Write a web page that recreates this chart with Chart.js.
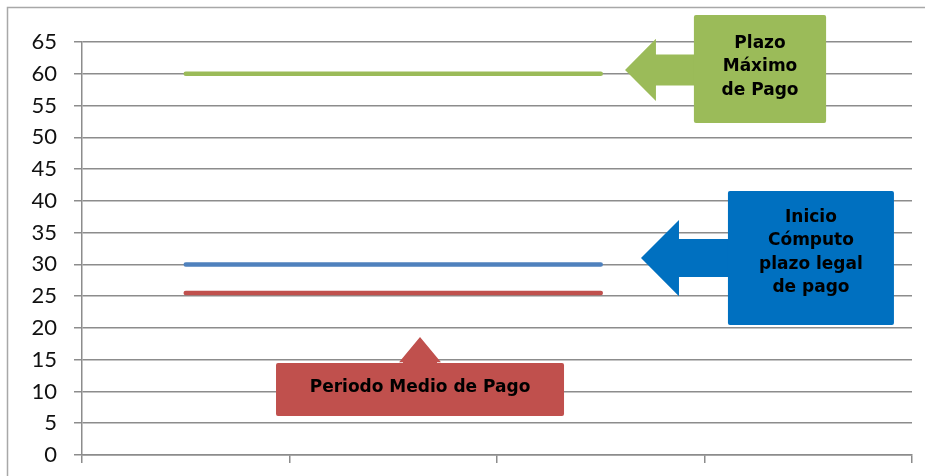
<!DOCTYPE html>
<html>
<head>
<meta charset="utf-8">
<script src="https://cdn.jsdelivr.net/npm/chart.js@4"></script>
<style>
  html, body { margin: 0; padding: 0; background: #fff; }
  #wrap { width: 925px; height: 476px; position: relative; }
</style>
</head>
<body>
<div id="wrap"><canvas id="c" width="925" height="476"></canvas></div>
<script>
// ---- data ----
const categories = ['', '', '', ''];
const plazoMaximo = [60, 60, 60, null];
const inicioComputo = [30, 30, 30, null];
const periodoMedio = [25.5, 25.5, 25.5, null];
const yMin = 0, yMax = 65, yStep = 5;

// ---- callout annotations (in axis units: x = category index, y = value) ----
const calloutGreen = {
  lines: ['Plazo', 'Máximo', 'de Pago'], color: '#9BBB59',
  box: { x0: 2.449, x1: 3.086, y0: 69.25, y1: 52.25 }, textY: 61.1,
  arrow: { dir: 'left', tipX: 2.117, tipY: 60.6, baseX: 2.266, head: 4.9, shaft: 2.44 }
};
const calloutBlue = {
  lines: ['Inicio', 'Cómputo', 'plazo legal', 'de pago'], color: '#0070C0',
  box: { x0: 2.613, x1: 3.413, y0: 41.55, y1: 20.46 }, textY: 31.87,
  arrow: { dir: 'left', tipX: 2.194, tipY: 31.0, baseX: 2.377, head: 6.0, shaft: 3.0 }
};
const calloutRed = {
  lines: ['Periodo Medio de Pago'], color: '#C0504D',
  box: { x0: 0.435, x1: 1.823, y0: 14.48, y1: 6.14 }, textY: 10.54,
  arrow: { dir: 'up', tipX: 1.129, tipY: 18.57, baseY: 14.6, head: 0.101, shaft: 0.082 }
};
const callouts = [calloutGreen, calloutBlue, calloutRed];

const frame = {
  id: 'frame',
  beforeDraw(chart) {
    const ctx = chart.ctx;
    ctx.save();
    ctx.strokeStyle = '#a8a8a8';
    ctx.lineWidth = 1.5;
    ctx.beginPath();
    ctx.moveTo(7.5, chart.height + 5);
    ctx.lineTo(7.5, 7.5);
    ctx.lineTo(chart.width + 5, 7.5);
    ctx.stroke();
    ctx.restore();
  }
};

const calloutPlugin = {
  id: 'callouts',
  afterDatasetsDraw(chart) {
    const ctx = chart.ctx;
    const xs = chart.scales.x, ys = chart.scales.y;
    const px = v => xs.getPixelForValue(v);
    const py = v => ys.getPixelForValue(v);
    ctx.save();
    callouts.forEach(c => {
      const bx0 = px(c.box.x0), bx1 = px(c.box.x1);
      const by0 = py(c.box.y0), by1 = py(c.box.y1);
      ctx.fillStyle = c.color;
      ctx.beginPath();
      const a = c.arrow;
      if (a.dir === 'left') {
        const tx = px(a.tipX), ty = py(a.tipY), bx = px(a.baseX);
        const hh = Math.abs(py(a.tipY + a.head) - ty);
        const sh = Math.abs(py(a.tipY + a.shaft) - ty);
        ctx.moveTo(tx, ty);
        ctx.lineTo(bx, ty - hh);
        ctx.lineTo(bx, ty - sh);
        ctx.lineTo(bx0 + 2, ty - sh);
        ctx.lineTo(bx0 + 2, ty + sh);
        ctx.lineTo(bx, ty + sh);
        ctx.lineTo(bx, ty + hh);
        ctx.closePath();
      } else {
        const tx = px(a.tipX), ty = py(a.tipY), by = py(a.baseY);
        const hw = Math.abs(px(a.tipX + a.head) - tx);
        const sw = Math.abs(px(a.tipX + a.shaft) - tx);
        ctx.moveTo(tx, ty);
        ctx.lineTo(tx + hw, by);
        ctx.lineTo(tx + sw, by);
        ctx.lineTo(tx + sw, by0 + 2);
        ctx.lineTo(tx - sw, by0 + 2);
        ctx.lineTo(tx - sw, by);
        ctx.lineTo(tx - hw, by);
        ctx.closePath();
      }
      ctx.fill();
      ctx.beginPath();
      if (ctx.roundRect) ctx.roundRect(bx0, by0, bx1 - bx0, by1 - by0, 2);
      else ctx.rect(bx0, by0, bx1 - bx0, by1 - by0);
      ctx.fill();
      // text
      ctx.fillStyle = '#000';
      ctx.font = 'bold 17px "DejaVu Sans"';
      ctx.textAlign = 'center';
      ctx.textBaseline = 'middle';
      const lh = 23.5;
      const cx = (bx0 + bx1) / 2;
      const cy = py(c.textY);
      const n = c.lines.length;
      c.lines.forEach((t, i) => {
        ctx.fillText(t, cx, cy + (i - (n - 1) / 2) * lh);
      });
    });
    ctx.restore();
  }
};

new Chart(document.getElementById('c'), {
  type: 'line',
  data: {
    labels: categories,
    datasets: [
      { label: 'Plazo Máximo de Pago', data: plazoMaximo, borderColor: '#9BBB59' },
      { label: 'Inicio Cómputo plazo legal de pago', data: inicioComputo, borderColor: '#4F81BD' },
      { label: 'Periodo Medio de Pago', data: periodoMedio, borderColor: '#C0504D' }
    ]
  },
  options: {
    responsive: false,
    animation: false,
    devicePixelRatio: 1,
    layout: { padding: { left: 0, top: 42, right: 13, bottom: 0 } },
    elements: {
      line: { borderWidth: 4.5, borderCapStyle: 'round', tension: 0 },
      point: { radius: 0, hoverRadius: 0 }
    },
    plugins: { legend: { display: false }, tooltip: { enabled: false } },
    scales: {
      x: {
        type: 'category',
        offset: true,
        ticks: { display: false },
        grid: { drawOnChartArea: false, drawTicks: true, tickLength: 8, color: '#8c8c8c', lineWidth: 1.5, offset: true },
        border: { display: true, color: '#8c8c8c', width: 1.5 },
        afterFit(s) { s.height = 21; s.paddingLeft = 0; s.paddingRight = 0; }
      },
      y: {
        min: yMin, max: yMax,
        ticks: { stepSize: yStep, padding: 17, color: '#111', font: { family: 'Lato', size: 22 } },
        grid: { color: '#8c8c8c', lineWidth: 1.5, tickLength: 8 },
        border: { display: true, color: '#8c8c8c', width: 1.5 },
        afterFit(s) { s.width = 82; s.paddingTop = 0; s.paddingBottom = 0; }
      }
    }
  },
  plugins: [frame, calloutPlugin]
});
</script>
</body>
</html>
